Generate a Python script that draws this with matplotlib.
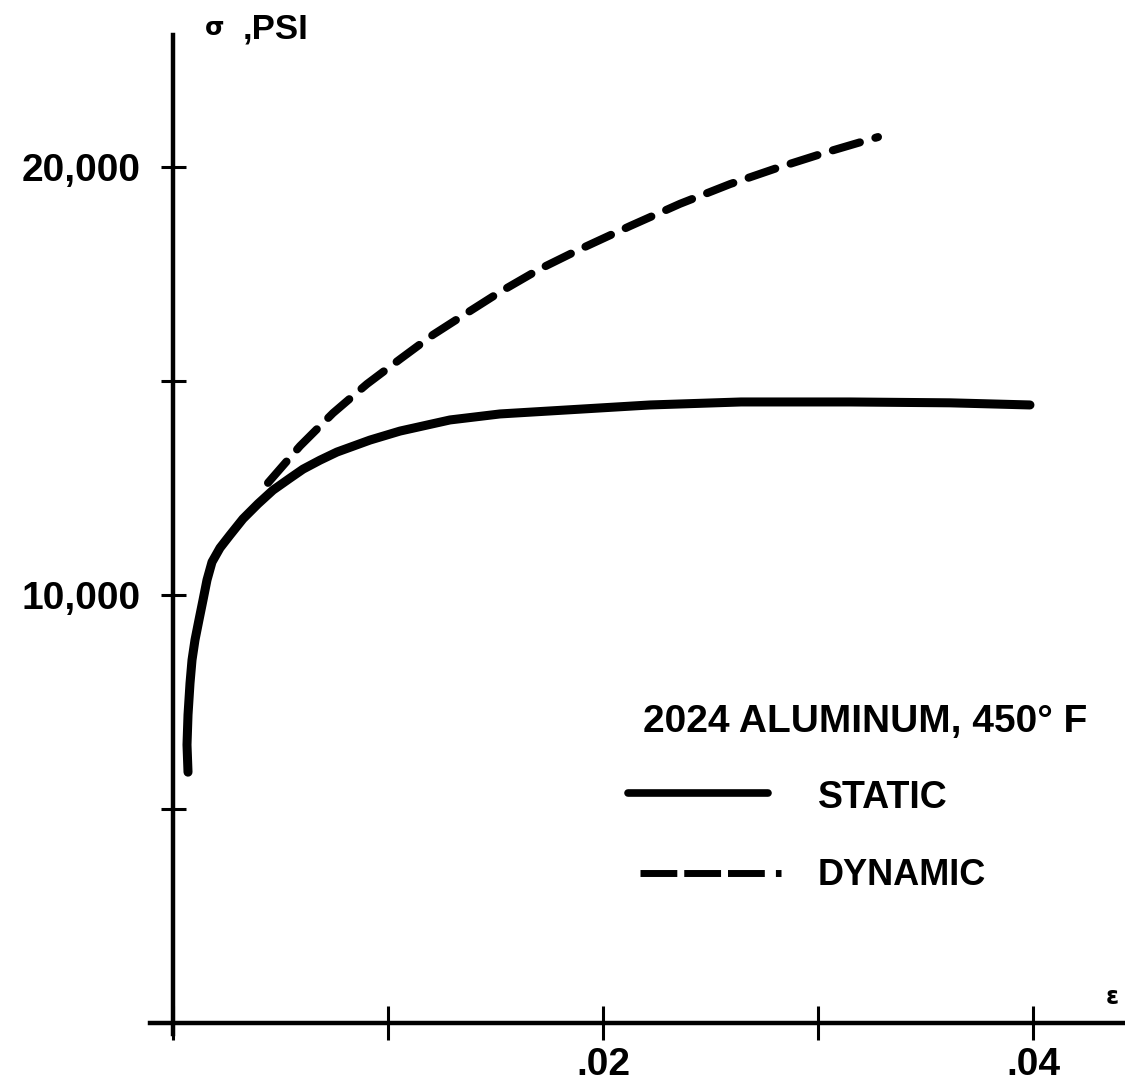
import matplotlib.pyplot as plt

# strain / stress values
static_eps = [0.000698, 0.000651, 0.000698, 0.000791, 0.000884, 0.001023, 0.001209,
              0.001395, 0.001581, 0.001814, 0.002186, 0.002651, 0.003256, 0.003953,
              0.004651, 0.005442, 0.006047, 0.006837, 0.007628, 0.009163, 0.010558,
              0.012884, 0.015209, 0.017535, 0.01986, 0.022186, 0.026419, 0.031488,
              0.03614, 0.03986]
static_sig = [5860, 6500, 7200, 7940, 8480, 8950, 9420,
              9880, 10350, 10770, 11100, 11400, 11780, 12130,
              12450, 12730, 12940, 13150, 13340, 13620, 13830,
              14090, 14230, 14300, 14370, 14440, 14510, 14510,
              14490, 14440]

dynamic_eps = [0.004419, 0.005907, 0.007442, 0.009023, 0.010558, 0.012093, 0.013674,
               0.015209, 0.01707, 0.01893, 0.021256, 0.023581, 0.025907, 0.028233,
               0.030558, 0.032791]
dynamic_sig = [12620, 13480, 14250, 14930, 15510, 16080, 16590,
               17080, 17620, 18080, 18620, 19140, 19600, 20000,
               20370, 20700]

x_ticks = [0, 0.01, 0.02, 0.03, 0.04]
x_labels = ["", "", ".02", "", ".04"]
y_ticks = [5000, 10000, 15000, 20000]
y_labels = ["", "10,000", "", "20,000"]

FONT = "Liberation Sans"

fig = plt.figure(figsize=(11.25, 10.82), dpi=100)
ax = fig.add_axes([0, 0, 1, 1])
ax.set_xlim(-0.008047, 0.04428)
ax.set_ylim(-1379, 23902)

# axes drawn as crossing lines through the origin
for side in ["top", "right"]:
    ax.spines[side].set_visible(False)
ax.spines["left"].set_position(("data", 0))
ax.spines["bottom"].set_position(("data", 0))
ax.spines["left"].set_bounds(-250, 23080)
ax.spines["bottom"].set_bounds(-0.00107, 0.0443)
ax.spines["left"].set_linewidth(3.2)
ax.spines["bottom"].set_linewidth(3.2)

ax.set_xticks(x_ticks)
ax.set_xticklabels(x_labels)
ax.set_yticks(y_ticks)
ax.set_yticklabels(y_labels)
ax.tick_params(axis="both", direction="inout", width=2.2)
ax.tick_params(axis="x", length=25, pad=5, labelsize=28)
ax.tick_params(axis="y", length=18, pad=14, labelsize=28)
for lab in ax.get_xticklabels() + ax.get_yticklabels():
    lab.set_fontweight("bold")
    lab.set_family(FONT)

ax.plot(static_eps, static_sig, color="black", lw=6.5, solid_capstyle="round",
        solid_joinstyle="round")
ax.plot(dynamic_eps, dynamic_sig, color="black", lw=5.8, dashes=(3.5, 2.0),
        dash_capstyle="round", solid_joinstyle="round")

# axis titles
ax.text(0.00192, 23090, "σ", fontsize=18, fontweight="bold", family="DejaVu Sans",
        ha="center", va="baseline")
ax.text(0.00326, 23010, ",PSI", fontsize=25, fontweight="bold", family=FONT,
        ha="left", va="baseline")
ax.text(0.0437, 600, "ε", fontsize=17, fontweight="bold", family="DejaVu Sans",
        ha="center", va="center")

# legend, hand lettered in the original
ax.text(0.02186, 6800, "2024 ALUMINUM, 450° F", fontsize=28, fontweight="bold",
        family=FONT, ha="left", va="baseline")
ax.plot([0.02116, 0.02767], [5374, 5374], color="black", lw=5.5,
        solid_capstyle="round")
ax.text(0.03, 5020, "STATIC", fontsize=27, fontweight="bold", family=FONT,
        ha="left", va="baseline")
ax.plot([0.02172, 0.0283], [3505, 3505], color="black", lw=5.0,
        dashes=(5.3, 1.0, 5.3, 1.0, 5.3, 1.6, 1.6, 20))
ax.text(0.03, 3220, "DYNAMIC", fontsize=26, fontweight="bold", family=FONT,
        ha="left", va="baseline")

fig.savefig("out.png", dpi=100)
